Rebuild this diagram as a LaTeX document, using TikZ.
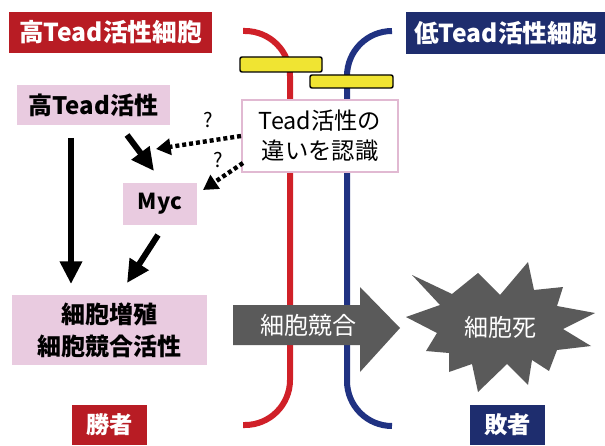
\documentclass[tikz,border=0pt]{standalone}
\usepackage{fontspec}
\setmainfont{Noto Sans CJK JP}
\usetikzlibrary{arrows.meta}
\definecolor{hdred}{RGB}{184,28,36}
\definecolor{hdblue}{RGB}{30,45,110}
\definecolor{lnred}{RGB}{208,32,40}
\definecolor{lnblue}{RGB}{32,50,130}
\definecolor{pinkfill}{RGB}{233,203,224}
\definecolor{pinkline}{RGB}{225,185,210}
\definecolor{barfill}{RGB}{240,228,50}
\definecolor{darkgray}{RGB}{90,90,90}
\tikzset{
  hdbox/.style={inner sep=0pt, text=white, font=\bfseries\fontsize{18.5}{20}\selectfont},
  pinkbox/.style={fill=pinkfill, inner sep=0pt, text=black, align=center},
  membrane/.style={line width=4.5pt, rounded corners=33.75pt},
  bar/.style={draw=black, line width=1.1pt, fill=barfill, rounded corners=1.5pt},
  bigarrow/.style={line width=4.5pt, -{Triangle[length=17pt,width=16pt]}},
  dotarrow/.style={line width=3.3pt, dash pattern=on 3pt off 2.2pt, -{Triangle[length=11pt,width=12pt]}},
  qmark/.style={font=\fontsize{15}{16}\selectfont, inner sep=0pt}
}
\begin{document}
\begin{tikzpicture}[x=0.75pt,y=-0.75pt]
\useasboundingbox (0,0) rectangle (605,445);
\fill[white] (0,0) rectangle (605,445);

% membranes
\draw[membrane, lnred] (243,31) -| (290,425) -- (243,425);
\draw[membrane, lnblue] (392,31) -| (347,426) -- (392,426);

% yellow bars
\draw[bar] (240,57) rectangle (322,72);
\draw[bar] (310,75) rectangle (393,88);

% headers
\node[hdbox, fill=hdred, minimum width=152.25pt, minimum height=30.75pt] (hdL) at (110.5,32.5) {高Tead活性細胞};
\node[hdbox, fill=hdblue, minimum width=149.25pt, minimum height=31.5pt] (hdR) at (505.5,33) {低Tead活性細胞};

% pink boxes
\node[pinkbox, minimum width=114.75pt, minimum height=30pt, font=\bfseries\fontsize{18}{20}\selectfont] (hi) at (93.5,105) {高Tead活性};
\node[pinkbox, minimum width=55.5pt, minimum height=31.5pt, font=\bfseries\fontsize{16.5}{18}\selectfont] (myc) at (160,204) {Myc};
\node[pinkbox, minimum width=146.25pt, minimum height=52.5pt, font=\bfseries\fontsize{18}{24}\selectfont] (prol) at (109.5,330) {細胞増殖\\細胞競合活性};

% recognition box
\node[draw=pinkline, line width=1.5pt, fill=white, inner sep=0pt, minimum width=117pt, minimum height=54pt, align=center, font=\fontsize{17.5}{22.5}\selectfont] (rec) at (320,136) {Tead活性の\\違いを認識};

% gray competition arrow
\path[fill=darkgray] (233,305) -- (360,305) -- (360,287) -- (400,328) -- (360,372) -- (360,345) -- (233,345) -- cycle;
\node[text=white, inner sep=0pt, font=\fontsize{18}{20}\selectfont] (comp) at (308,325) {細胞競合};

% starburst
\path[fill=darkgray] (412,275) -- (452,294) -- (478,273) -- (500,295) -- (528,262) -- (534,290) -- (563,287) -- (557,306) -- (595,313) -- (563,329) -- (591,346) -- (557,350) -- (549,371) -- (532,360) -- (528,385) -- (507,364) -- (478,392) -- (472,364) -- (449,372) -- (449,353) -- (426,351) -- (437,333) -- (406,317) -- (440,305) -- cycle;
\node[text=white, inner sep=0pt, font=\fontsize{18}{20}\selectfont] (death) at (500,327) {細胞死};

% winner / loser
\node[hdbox, fill=hdred, minimum width=56.25pt, minimum height=30pt, font=\bfseries\fontsize{17.5}{20}\selectfont] (win) at (109.5,425) {勝者};
\node[hdbox, fill=hdblue, minimum width=56.25pt, minimum height=30pt, font=\bfseries\fontsize{17.5}{20}\selectfont] (lose) at (507.5,425) {敗者};

% arrow endpoints
\coordinate (a1s) at (71,138);
\coordinate (a1e) at (71,284);
\coordinate (a2s) at (127,135);
\coordinate (a2e) at (154,171);
\coordinate (a3s) at (158,235);
\coordinate (a3e) at (127,283);
\coordinate (d1s) at (241,136);
\coordinate (d1e) at (156,149);
\coordinate (d2s) at (243,163);
\coordinate (d2e) at (203,190);

\draw[bigarrow] (a1s) -- (a1e);
\draw[bigarrow] (a2s) -- (a2e);
\draw[bigarrow] (a3s) -- (a3e);
\draw[dotarrow] (d1s) -- (d1e);
\draw[dotarrow] (d2s) -- (d2e);

\node[qmark] (q1) at (208,120) {?};
\node[qmark] (q2) at (218,160) {?};
\end{tikzpicture}
\end{document}
